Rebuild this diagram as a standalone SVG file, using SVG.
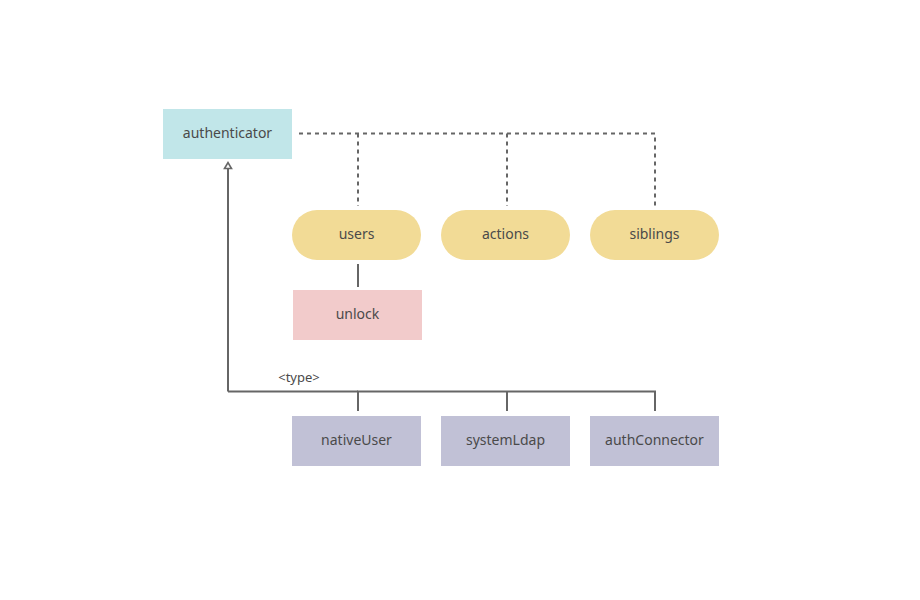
<svg xmlns="http://www.w3.org/2000/svg" width="920" height="600" viewBox="0 0 920 600">
<style>
text{font-family:"Noto Sans","Open Sans",sans-serif;font-size:14px;fill:#4a4a4a;text-anchor:middle;dominant-baseline:central}
.c{fill:none;stroke:#666;stroke-width:2}
.d{stroke-dasharray:4 4}
.pill{fill:#f2db96}
.leaf{fill:#c1c1d6}
.ah{fill:#fff;stroke:#666;stroke-width:1.6}
</style>
<rect width="920" height="600" fill="#fff"/>
<g id="connectors">
<path class="c d" d="M299,133.5 H655 V206 M358,133.5 V206 M507,133.5 V206"/>
<path class="c" d="M358,264 V287"/>
<path class="c" d="M358,411 V391.5 H655 V411 M507,391.5 V411"/>
<path class="c" d="M228,391.5 H358 M228,391.5 V168"/>
<polygon class="ah" points="224.5,168.5 228,162.5 231.5,168.5"/>
<text x="299" y="376.5" style="font-size:13px">&lt;type&gt;</text>
</g>
<g id="authenticator"><rect x="163" y="109" width="129" height="50" fill="#c1e6e9"/><text x="227.5" y="132.5">authenticator</text></g>
<g id="users"><rect class="pill" x="292" y="210" width="129" height="50" rx="25"/><text x="356.5" y="233.5">users</text></g>
<g id="actions"><rect class="pill" x="441" y="210" width="129" height="50" rx="25"/><text x="505.5" y="233.5">actions</text></g>
<g id="siblings"><rect class="pill" x="590" y="210" width="129" height="50" rx="25"/><text x="654.5" y="233.5">siblings</text></g>
<g id="unlock"><rect x="293" y="290" width="129" height="50" fill="#f2cbcb"/><text x="357.5" y="313.5">unlock</text></g>
<g id="nativeUser"><rect class="leaf" x="292" y="416" width="129" height="50"/><text x="356.5" y="439.5">nativeUser</text></g>
<g id="systemLdap"><rect class="leaf" x="441" y="416" width="129" height="50"/><text x="505.5" y="439.5">systemLdap</text></g>
<g id="authConnector"><rect class="leaf" x="590" y="416" width="129" height="50"/><text x="654.5" y="439.5">authConnector</text></g>
</svg>
